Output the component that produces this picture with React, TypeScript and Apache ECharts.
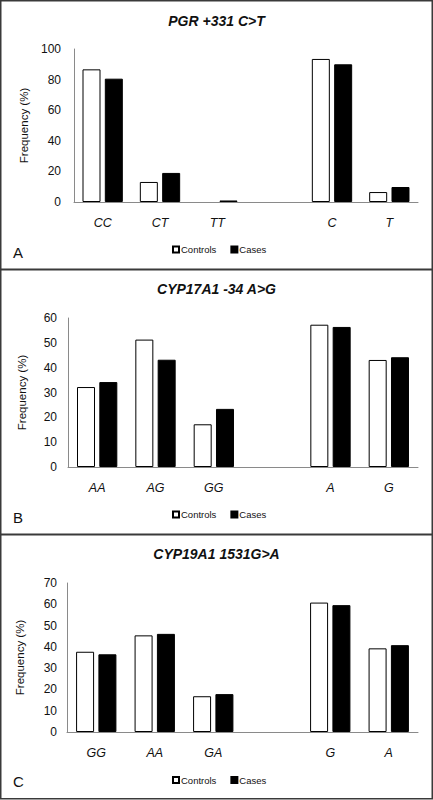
import React, { useEffect, useRef } from "react";
import * as echarts from "echarts";

const seriesNames = ["Controls", "Cases"];

const titleA = "PGR +331 C>T";
const categoriesA = ["CC", "CT", "TT", "", "C", "T"];
const controlsA = [86.7, 13.1, 0, null, 93.5, 6.5];
const casesA = [80.6, 19, 1, null, 90, 9.8];

const titleB = "CYP17A1 -34 A>G";
const categoriesB = ["AA", "AG", "GG", "", "A", "G"];
const controlsB = [32.2, 51.3, 17.2, null, 57.3, 43.1];
const casesB = [34.2, 43.2, 23.4, null, 56.4, 44.2];

const titleC = "CYP19A1 1531G>A";
const categoriesC = ["GG", "AA", "GA", "", "G", "A"];
const controlsC = [37.7, 45.4, 16.8, null, 60.8, 39.3];
const casesC = [36.5, 46.1, 17.8, null, 59.6, 40.8];

const yMax = [100, 60, 70];
const yInterval = [20, 10, 10];
const panelLetters = ["A", "B", "C"];

const FONT = "Liberation Sans";

function toItems(values: (number | null)[]) {
  // zero-height bars are not drawn with an outline
  return values.map((v) =>
    v === 0 ? { value: 0, itemStyle: { borderWidth: 0 } } : v
  );
}

export default function App() {
  const ref = useRef<HTMLDivElement>(null);
  useEffect(() => {
    if (!ref.current) return;
    const chart = echarts.init(ref.current, undefined, { renderer: "svg" });

    const panels = [
      { title: titleA, cats: categoriesA, ctrl: controlsA, cases: casesA },
      { title: titleB, cats: categoriesB, ctrl: controlsB, cases: casesB },
      { title: titleC, cats: categoriesC, ctrl: controlsC, cases: casesC },
    ];
    const layout = [
      { top0: 0, h: 269, gridLeft: 74, gridTop: 49, gridH: 153, titleY: 22.5, legendY: 250, letterY: 252.5, labelMargin: 13, nameGap: 40 },
      { top0: 269, h: 265, gridLeft: 68, gridTop: 318, gridH: 149, titleY: 290, legendY: 515, letterY: 517, labelMargin: 11, nameGap: 40 },
      { top0: 534, h: 264.5, gridLeft: 67, gridTop: 583, gridH: 149, titleY: 555, legendY: 780.5, letterY: 781, labelMargin: 10, nameGap: 41 },
    ];

    const grid: any[] = [];
    const xAxis: any[] = [];
    const yAxis: any[] = [];
    const series: any[] = [];
    const title: any[] = [];
    const legend: any[] = [];
    const graphic: any[] = [];

    panels.forEach((p, i) => {
      const L = layout[i];
      grid.push({ left: L.gridLeft, right: 15, top: L.gridTop, height: L.gridH });
      xAxis.push({
        type: "category",
        gridIndex: i,
        data: p.cats,
        axisTick: { show: false },
        axisLine: { lineStyle: { color: "#8a8a8a", width: 1 } },
        axisLabel: {
          margin: 14,
          fontFamily: FONT,
          fontStyle: "italic",
          fontSize: 12.5,
          color: "#111",
        },
      });
      yAxis.push({
        type: "value",
        gridIndex: i,
        min: 0,
        max: yMax[i],
        interval: yInterval[i],
        splitLine: { show: false },
        axisTick: { show: false },
        axisLine: { show: true, lineStyle: { color: "#8a8a8a", width: 1 } },
        axisLabel: { margin: L.labelMargin, fontFamily: FONT, fontSize: 12, color: "#111" },
        name: "Frequency (%)",
        nameLocation: "middle",
        nameGap: L.nameGap,
        nameTextStyle: { fontFamily: FONT, fontSize: 11.5, color: "#111" },
      });
      series.push({
        type: "bar",
        name: seriesNames[0],
        xAxisIndex: i,
        yAxisIndex: i,
        data: toItems(p.ctrl),
        barWidth: 18,
        barGap: "24%",
        itemStyle: { color: "#ffffff", borderColor: "#000", borderWidth: 1 },
      });
      series.push({
        type: "bar",
        name: seriesNames[1],
        xAxisIndex: i,
        yAxisIndex: i,
        data: toItems(p.cases),
        barWidth: 18,
        barGap: "24%",
        itemStyle: { color: "#000000", borderColor: "#000", borderWidth: 1 },
      });
      title.push({
        text: p.title,
        left: "center",
        top: L.titleY - 8.5,
        padding: 0,
        textStyle: {
          fontFamily: FONT,
          fontStyle: "italic",
          fontWeight: "bold",
          fontSize: 14,
          color: "#111",
        },
      });
      legend.push({
        data: seriesNames,
        left: 172,
        top: L.legendY - 5.5,
        padding: 0,
        itemWidth: 6,
        itemHeight: 6,
        itemGap: 14,
        icon: "rect",
        selectedMode: false,
        textStyle: { fontFamily: FONT, fontSize: 9.5, color: "#111", padding: [0, 0, 0, -3] },
      });
      graphic.push({
        type: "rect",
        shape: { x: 0.75, y: L.top0 + 0.75, width: 431.5, height: L.h - 0.5 },
        style: { fill: "none", stroke: "#3a3a3a", lineWidth: 1.5 },
        z: 100,
      });
      graphic.push({
        type: "text",
        x: 13,
        y: L.letterY,
        style: {
          text: panelLetters[i],
          fontFamily: FONT,
          fontSize: 15,
          fill: "#111",
          verticalAlign: "middle",
        },
      });
    });

    chart.setOption({
      animation: false,
      backgroundColor: "#ffffff",
      title,
      legend,
      grid,
      xAxis,
      yAxis,
      series,
      graphic,
    });
    return () => chart.dispose();
  }, []);
  return (
    <div
      ref={ref}
      style={{ position: "absolute", left: 0, top: 0, width: 433, height: 800 }}
    />
  );
}
